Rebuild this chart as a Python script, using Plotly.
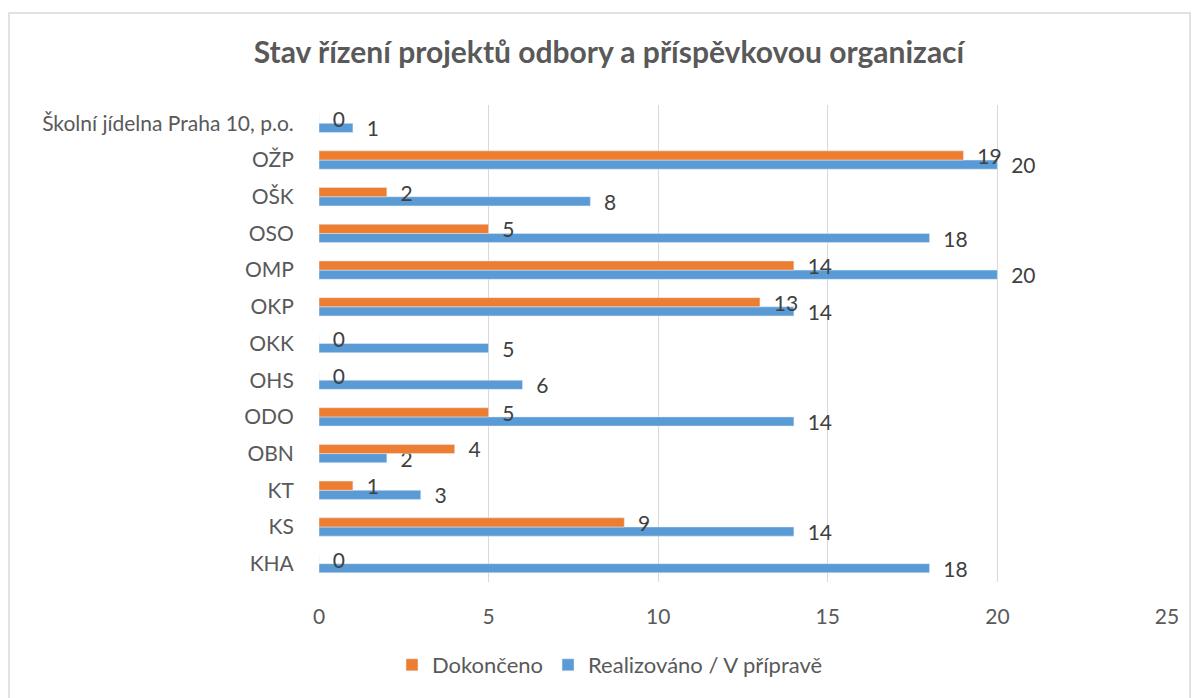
import plotly.graph_objects as go

categories = ["KHA", "KS", "KT", "OBN", "ODO", "OHS", "OKK", "OKP", "OMP", "OSO", "OŠK", "OŽP",
              "Školní jídelna Praha 10, p.o."]
dokonceno = [0, 9, 1, 4, 5, 0, 0, 13, 14, 5, 2, 19, 0]
realizovano = [18, 14, 3, 2, 14, 6, 5, 14, 20, 18, 8, 20, 1]
x_ticks = [0, 5, 10, 15, 20, 25]

W, H = 1195, 698
L, R, T, B = 319, 28, 105, 116
pw, ph = W - L - R, H - T - B

FONT = "Lato"
fig = go.Figure()
fig.add_trace(go.Bar(
    y=categories, x=realizovano, orientation="h", name="Realizováno / V přípravě",
    marker=dict(color="#5B9BD5"), texttemplate="  %{x}", textposition="outside",
    constraintext="none",
    textfont=dict(size=21, color="#404040", family=FONT), cliponaxis=False, legendrank=2,
))
fig.add_trace(go.Bar(
    y=categories, x=dokonceno, orientation="h", name="Dokončeno",
    marker=dict(color="#ED7D31"), texttemplate="  %{x}", textposition="outside",
    constraintext="none",
    textfont=dict(size=21, color="#404040", family=FONT), cliponaxis=False, legendrank=1,
))

fig.update_layout(
    width=W, height=H,
    margin=dict(l=L, r=R, t=T, b=B),
    paper_bgcolor="white", plot_bgcolor="white",
    barmode="group", bargap=0.5, bargroupgap=0,
    font=dict(family=FONT, color="#595959", size=22),
    title=dict(text="<b>Stav řízení projektů odbory a příspěvkovou organizací</b>",
               x=609 / W, xref="container", xanchor="center",
               y=1 - 52 / H, yref="container", yanchor="middle",
               font=dict(size=30, color="#595959", family=FONT)),
    legend=dict(orientation="h", x=(610 - L) / pw, xanchor="center",
                y=-(665 - (H - B)) / ph, yanchor="middle",
                font=dict(size=22, color="#595959", family=FONT),
                traceorder="normal", itemwidth=30),
    showlegend=True,
)
fig.update_xaxes(range=[0, 25], tickvals=x_ticks, showgrid=True, gridcolor="#D9D9D9", gridwidth=1,
                 zeroline=False, showline=False, ticks="outside", ticklen=16,
                 tickcolor="rgba(0,0,0,0)",
                 tickfont=dict(size=21, color="#595959"))
fig.update_yaxes(categoryorder="array", categoryarray=categories, showgrid=False, zeroline=False,
                 showline=False, ticks="outside", ticklen=20, tickcolor="rgba(0,0,0,0)",
                 tickfont=dict(size=21, color="#595959"))

fig.add_shape(type="rect", xref="paper", yref="paper",
              x0=(9 - L) / pw, x1=(1190 - L) / pw,
              y0=-(H + 5 - (H - B)) / ph, y1=1 + (T - 13) / ph,
              line=dict(color="#D9D9D9", width=1.5), fillcolor="rgba(0,0,0,0)", layer="below")

fig.write_html("out.html", config={"displayModeBar": False},
               post_script="document.body.style.margin='0px';")
